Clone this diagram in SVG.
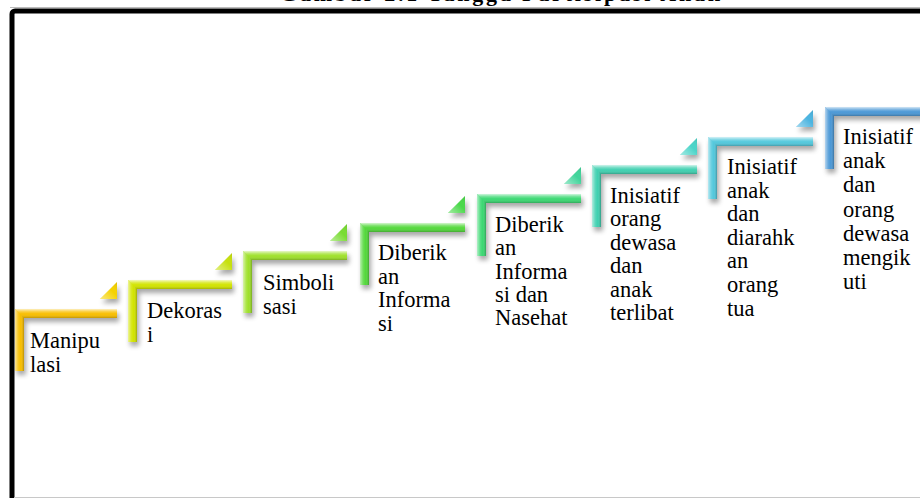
<svg xmlns="http://www.w3.org/2000/svg" width="920" height="498" viewBox="0 0 920 498">
<style>
.lbl{font-family:"Liberation Serif","Times New Roman",serif;font-size:22.5px;fill:#000}
.ttl{font-family:"Liberation Serif","Times New Roman",serif;font-size:22px;font-weight:bold;fill:#000}
.hb{fill:url(#hbev)}
.vb{fill:url(#vbev)}
.tb{fill:url(#tbev)}
</style>
<defs>
<linearGradient id="hbev" x1="0" y1="0" x2="0" y2="1">
<stop offset="0" stop-color="#fff" stop-opacity="0.75"/>
<stop offset="0.3" stop-color="#fff" stop-opacity="0.25"/>
<stop offset="0.55" stop-color="#fff" stop-opacity="0"/>
<stop offset="1" stop-color="#000" stop-opacity="0.22"/>
</linearGradient>
<linearGradient id="vbev" x1="0" y1="0" x2="1" y2="0">
<stop offset="0" stop-color="#fff" stop-opacity="0.6"/>
<stop offset="0.35" stop-color="#fff" stop-opacity="0.15"/>
<stop offset="0.6" stop-color="#fff" stop-opacity="0"/>
<stop offset="1" stop-color="#000" stop-opacity="0.25"/>
</linearGradient>
<linearGradient id="tbev" x1="0" y1="1" x2="1" y2="0">
<stop offset="0" stop-color="#fff" stop-opacity="0.5"/>
<stop offset="0.6" stop-color="#fff" stop-opacity="0"/>
<stop offset="1" stop-color="#000" stop-opacity="0.1"/>
</linearGradient>
<filter id="sh" x="-20%" y="-20%" width="150%" height="160%">
<feGaussianBlur in="SourceAlpha" stdDeviation="2.5"/>
<feOffset dx="2" dy="4" result="b"/>
<feComponentTransfer><feFuncA type="linear" slope="0.35"/></feComponentTransfer>
<feMerge><feMergeNode/><feMergeNode in="SourceGraphic"/></feMerge>
</filter>
</defs>

<rect width="920" height="498" fill="#fff"/>
<text class="ttl" x="500" y="1" text-anchor="middle" textLength="440" lengthAdjust="spacing">Gambar 2.1 Tangga Partisipasi Anak</text>
<line x1="10" y1="7.5" x2="920" y2="7.5" stroke="#bbb" stroke-width="1"/>
<rect x="12" y="11" width="940" height="520" rx="3" fill="none" stroke="#000" stroke-width="5"/>
<line x1="14" y1="497.5" x2="920" y2="497.5" stroke="#c8c8c8" stroke-width="1"/>

<g id="step1" transform="translate(15,309)">
<g filter="url(#sh)">
<path d="M0,0 H102 V9 H9 V62 H0 Z" fill="#F8BE00"/>
<polygon points="85,-10 102,-10 102,-27" fill="#F5D200"/>
</g>
<path class="hb" d="M0,0 H102 V9 H9 Z"/>
<path class="vb" d="M0,0 L9,9 V62 H0 Z"/>
<polygon class="tb" points="85,-10 102,-10 102,-27"/>
</g>
<text class="lbl" x="30" y="348">Manipu<tspan x="30" dy="23.5">lasi</tspan></text>

<g id="step2" transform="translate(128,280)">
<g filter="url(#sh)">
<path d="M0,0 H104 V9 H9 V62 H0 Z" fill="#D2E400"/>
<polygon points="87,-10 104,-10 104,-27" fill="#C6E010"/>
</g>
<path class="hb" d="M0,0 H104 V9 H9 Z"/>
<path class="vb" d="M0,0 L9,9 V62 H0 Z"/>
<polygon class="tb" points="87,-10 104,-10 104,-27"/>
</g>
<text class="lbl" x="147" y="318">Dekoras<tspan x="147" dy="23.5">i</tspan></text>

<g id="step3" transform="translate(243,251)">
<g filter="url(#sh)">
<path d="M0,0 H104 V9 H9 V62 H0 Z" fill="#9EE02A"/>
<polygon points="87,-10 104,-10 104,-27" fill="#78DC30"/>
</g>
<path class="hb" d="M0,0 H104 V9 H9 Z"/>
<path class="vb" d="M0,0 L9,9 V62 H0 Z"/>
<polygon class="tb" points="87,-10 104,-10 104,-27"/>
</g>
<text class="lbl" x="263" y="290">Simboli<tspan x="263" dy="23.5">sasi</tspan></text>

<g id="step4" transform="translate(360,223)">
<g filter="url(#sh)">
<path d="M0,0 H105 V9 H9 V62 H0 Z" fill="#52D83A"/>
<polygon points="88,-10 105,-10 105,-27" fill="#48D848"/>
</g>
<path class="hb" d="M0,0 H105 V9 H9 Z"/>
<path class="vb" d="M0,0 L9,9 V62 H0 Z"/>
<polygon class="tb" points="88,-10 105,-10 105,-27"/>
</g>
<text class="lbl" x="378" y="260">Diberik<tspan x="378" dy="23.6">an</tspan><tspan x="378" dy="23.6">Informa</tspan><tspan x="378" dy="23.6">si</tspan></text>

<g id="step5" transform="translate(477,194)">
<g filter="url(#sh)">
<path d="M0,0 H104 V9 H9 V62 H0 Z" fill="#3AD872"/>
<polygon points="87,-10 104,-10 104,-27" fill="#40D49A"/>
</g>
<path class="hb" d="M0,0 H104 V9 H9 Z"/>
<path class="vb" d="M0,0 L9,9 V62 H0 Z"/>
<polygon class="tb" points="87,-10 104,-10 104,-27"/>
</g>
<text class="lbl" x="495" y="232">Diberik<tspan x="495" dy="23.3">an</tspan><tspan x="495" dy="23.3">Informa</tspan><tspan x="495" dy="23.3">si dan</tspan><tspan x="495" dy="23.3">Nasehat</tspan></text>

<g id="step6" transform="translate(592,165)">
<g filter="url(#sh)">
<path d="M0,0 H105 V9 H9 V62 H0 Z" fill="#40D0B0"/>
<polygon points="88,-10 105,-10 105,-27" fill="#48D4C8"/>
</g>
<path class="hb" d="M0,0 H105 V9 H9 Z"/>
<path class="vb" d="M0,0 L9,9 V62 H0 Z"/>
<polygon class="tb" points="88,-10 105,-10 105,-27"/>
</g>
<text class="lbl" x="610" y="203">Inisiatif<tspan x="610" dy="23.4">orang</tspan><tspan x="610" dy="23.4">dewasa</tspan><tspan x="610" dy="23.4">dan</tspan><tspan x="610" dy="23.4">anak</tspan><tspan x="610" dy="23.4">terlibat</tspan></text>

<g id="step7" transform="translate(708,137)">
<g filter="url(#sh)">
<path d="M0,0 H105 V9 H9 V62 H0 Z" fill="#52C8DC"/>
<polygon points="88,-10 105,-10 105,-27" fill="#4CB4E0"/>
</g>
<path class="hb" d="M0,0 H105 V9 H9 Z"/>
<path class="vb" d="M0,0 L9,9 V62 H0 Z"/>
<polygon class="tb" points="88,-10 105,-10 105,-27"/>
</g>
<text class="lbl" x="727" y="174">Inisiatif<tspan x="727" dy="23.6">anak</tspan><tspan x="727" dy="23.6">dan</tspan><tspan x="727" dy="23.6">diarahk</tspan><tspan x="727" dy="23.6">an</tspan><tspan x="727" dy="23.6">orang</tspan><tspan x="727" dy="23.6">tua</tspan></text>

<g id="step8" transform="translate(825,107)">
<g filter="url(#sh)">
<path d="M0,0 H105 V9 H9 V62 H0 Z" fill="#4C98D6"/>
</g>
<path class="hb" d="M0,0 H105 V9 H9 Z"/>
<path class="vb" d="M0,0 L9,9 V62 H0 Z"/>
</g>
<text class="lbl" x="843" y="144">Inisiatif<tspan x="843" dy="24.2">anak</tspan><tspan x="843" dy="24.2">dan</tspan><tspan x="843" dy="24.2">orang</tspan><tspan x="843" dy="24.2">dewasa</tspan><tspan x="843" dy="24.2">mengik</tspan><tspan x="843" dy="24.2">uti</tspan></text>
</svg>
